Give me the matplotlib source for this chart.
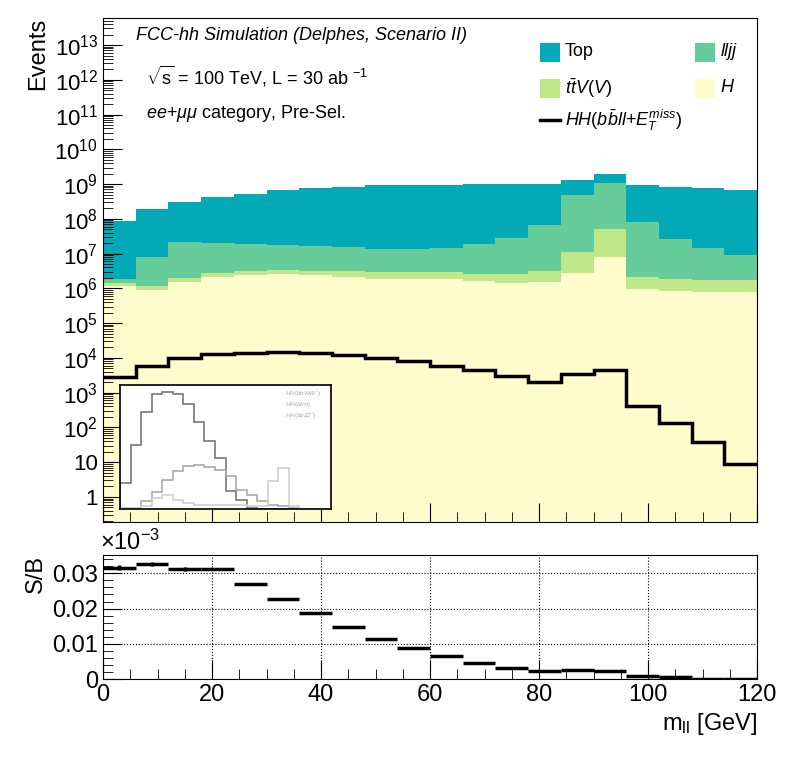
import numpy as np
import matplotlib
matplotlib.use('Agg')
import matplotlib.pyplot as plt
from matplotlib.patches import Rectangle
from matplotlib.lines import Line2D
from matplotlib.ticker import FixedLocator, NullFormatter, MultipleLocator

plt.rcParams['font.family'] = ['Liberation Sans', 'DejaVu Sans']
plt.rcParams['mathtext.fontset'] = 'custom'
plt.rcParams['mathtext.rm'] = 'Liberation Sans'
plt.rcParams['mathtext.it'] = 'Liberation Sans:italic'

edges = np.arange(0, 121, 6)

# log10 of the stacked tops
top_log = [7.93, 8.28, 8.48, 8.62, 8.71, 8.82, 8.89, 8.91, 8.97, 8.97,
           8.97, 8.99, 8.99, 8.99, 9.13, 9.28, 8.97, 8.91, 8.88, 8.84]
lljj_log = [6.27, 6.90, 7.33, 7.30, 7.28, 7.25, 7.21, 7.18, 7.13, 7.13,
            7.16, 7.27, 7.44, 7.82, 8.68, 9.03, 7.90, 7.41, 7.16, 6.95]
ttv_log = [6.16, 6.06, 6.30, 6.44, 6.49, 6.52, 6.51, 6.49, 6.47, 6.46,
           6.46, 6.42, 6.42, 6.49, 7.04, 7.70, 6.32, 6.27, 6.24, 6.23]
h_log = [6.08, 5.96, 6.19, 6.32, 6.38, 6.42, 6.39, 6.33, 6.27, 6.27,
         6.27, 6.22, 6.15, 6.19, 6.45, 6.91, 5.99, 5.93, 5.90, 5.90]
sig_log = [3.44, 3.78, 3.99, 4.12, 4.15, 4.17, 4.15, 4.08, 3.99, 3.90,
           3.78, 3.64, 3.47, 3.32, 3.53, 3.65, 2.61, 2.12, 1.57, 0.95]
sb = [0.0316, 0.0327, 0.0312, 0.0312, 0.0271, 0.0227, 0.0188, 0.0148, 0.0114, 0.0088,
      0.0065, 0.0045, 0.0032, 0.0023, 0.0026, 0.0024, 0.0008, 0.0005, 0.0001, 0.0001]
sb_err = [0.0007, 0.0006, 0.0005, 0.0003, 0.0002, 0.0001, 0, 0, 0, 0,
          0, 0, 0, 0, 0, 0, 0, 0, 0, 0]

# inset (greyscale picture of another plot), arbitrary units
ins_ww = [78, 193, 291, 345, 351, 345, 315, 261, 203, 153, 55, 26, 3, 0, 0, 0, 0, 0, 0, 0]
ins_tt = [3, 3, 23, 50, 86, 113, 128, 131, 125, 116, 98, 58, 43, 23, 13, 8, 3, 0, 0, 0]
ins_zz = [3, 3, 8, 33, 43, 28, 18, 13, 13, 13, 13, 13, 8, 8, 83, 123, 8, 0, 0, 0]
ins_labels = [r'$HH(bbWW^{*})$', r'$HH(bb\tau\tau)$', r'$HH(bbZZ^{*})$']

c_top = '#03a9b6'
c_lljj = '#66cc99'
c_ttv = '#c0e88a'
c_h = '#fdfccc'

fig = plt.figure(figsize=(7.96, 7.72), dpi=100)
W, H = 796, 772
ax = fig.add_axes([103 / W, 1 - 522 / H, 654 / W, 504 / H])
rx = fig.add_axes([103 / W, 1 - 679 / H, 654 / W, 124 / H])

ymin = 0.19
for vals, col in [(top_log, c_top), (lljj_log, c_lljj), (ttv_log, c_ttv), (h_log, c_h)]:
    v = 10 ** np.array(vals)
    ax.stairs(v, edges, baseline=ymin, fill=True, color=col, lw=0)
ax.stairs(10 ** np.array(sig_log), edges, baseline=None, color='black', lw=2.5)

ax.set_yscale('log')
ax.set_ylim(ymin, 6e13)
ax.set_xlim(0, 120)
ax.yaxis.set_major_locator(FixedLocator([10.0 ** k for k in range(14)]))
ax.set_yticklabels(['1', '10'] + [r'$10^{%d}$' % k for k in range(2, 14)])
ax.yaxis.set_minor_locator(FixedLocator([m * 10.0 ** k for k in range(-1, 14) for m in range(2, 10)]))
ax.yaxis.set_minor_formatter(NullFormatter())
ax.xaxis.set_major_locator(MultipleLocator(20))
ax.xaxis.set_minor_locator(MultipleLocator(5))
ax.set_xticklabels([])
ax.tick_params(which='both', direction='in', labelsize=16)
ax.tick_params(which='major', length=14)
ax.tick_params(which='minor', length=7)
ax.set_ylabel('Events', fontsize=17, loc='top')

# header texts
ax.text(0.05, 0.965, 'FCC-hh Simulation (Delphes, Scenario II)', transform=ax.transAxes,
        fontsize=13, style='italic', va='center')
ax.text(0.065, 0.885, r'$\sqrt{\mathrm{s}}$ = 100 TeV, L = 30 ab $^{-1}$', transform=ax.transAxes,
        fontsize=13, va='center')
ax.text(0.065, 0.81, r'$ee$+$\mu\mu$ category, Pre-Sel.', transform=ax.transAxes,
        fontsize=13, va='center')

# legend
def lpatch(x, y, col, label):
    ax.add_patch(Rectangle(((x - 103) / 654, 1 - (y - 18 + 10) / 504), 20 / 654, 19 / 504,
                           transform=ax.transAxes, color=col, lw=0))
    ax.text((x + 25 - 103) / 654, 1 - (y - 18) / 504, label, transform=ax.transAxes,
            fontsize=13, va='center')

lpatch(540, 52, c_top, 'Top')
lpatch(695, 52, c_lljj, r'$lljj$')
lpatch(540, 88, c_ttv, r'$t\bar{t}V(V)$')
lpatch(695, 88, c_h, r'$H$')
ax.add_line(Line2D([(540 - 103) / 654, (560 - 103) / 654], [1 - 102 / 504] * 2,
                   transform=ax.transAxes, color='black', lw=2.5))
ax.text((565 - 103) / 654, 1 - 102 / 504, r'$HH(b\bar{b}ll$+$E_{T}^{miss})$', transform=ax.transAxes,
        fontsize=13, va='center')

# inset
ix = fig.add_axes([120 / W, 1 - 509 / H, 211 / W, 124 / H])
ix.set_facecolor('white')
ie = np.arange(21)
ix.stairs(ins_ww, ie, color='#777777', lw=1.2)
ix.stairs(ins_tt, ie, color='#aaaaaa', lw=1.2)
ix.stairs(ins_zz, ie, color='#d0d0d0', lw=1.2)
ix.set_xlim(0, 20)
ix.set_ylim(0, 372)
ix.set_xticks([])
ix.set_yticks([])
for s in ix.spines.values():
    s.set_linewidth(1.2)
for i, t in enumerate(ins_labels):
    ix.text(0.78, 0.93 - i * 0.09, t, transform=ix.transAxes, fontsize=4.5, color='#aaaaaa', va='center')

# ratio
centers = 0.5 * (edges[:-1] + edges[1:])
rx.errorbar(centers, sb, xerr=3, yerr=sb_err, fmt='none', ecolor='black', elinewidth=2.5)
rx.set_xlim(0, 120)
rx.set_ylim(0, 0.0352)
rx.yaxis.set_major_locator(FixedLocator([0, 0.01, 0.02, 0.03]))
rx.set_yticklabels(['0', '0.01', '0.02', '0.03'])
rx.yaxis.set_minor_locator(MultipleLocator(0.002))
rx.xaxis.set_major_locator(MultipleLocator(20))
rx.xaxis.set_minor_locator(MultipleLocator(5))
rx.grid(True, which='major', color='black', ls=':', lw=0.8)
rx.tick_params(which='both', direction='in', labelsize=17)
rx.tick_params(which='major', length=14)
rx.tick_params(which='minor', length=7)
rx.set_ylabel('S/B', fontsize=17, loc='top')
rx.text(-0.005, 1.0, r'$\times10^{-3}$', transform=rx.transAxes, fontsize=17, va='bottom')
rx.set_xlabel(r'm$_{\rm ll}$ [GeV]', fontsize=17, loc='right')

fig.savefig('out.png', dpi=100)
